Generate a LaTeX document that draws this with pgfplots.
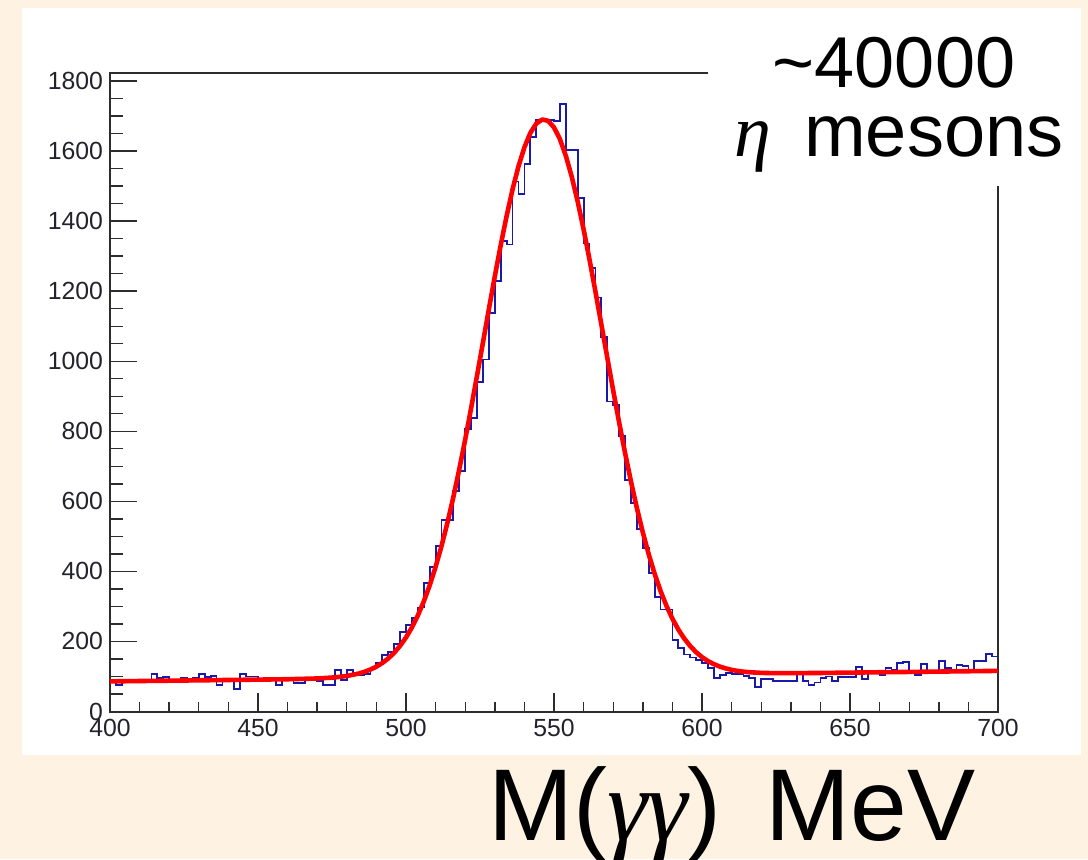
\documentclass[border=0pt]{standalone}
\usepackage{fontspec}
\setmainfont{Liberation Sans}
\newfontfamily\greekfont{Liberation Serif}
\usepackage{pgfplots}
\usepackage{pgfplotstable}
\pgfplotsset{compat=1.18}

\definecolor{cream}{RGB}{254,243,226}
\definecolor{histblue}{RGB}{25,25,170}
\definecolor{fitred}{RGB}{255,0,0}
\definecolor{framegray}{RGB}{45,45,45}
\definecolor{labelgray}{RGB}{35,35,45}

% diphoton invariant mass, 2 MeV bins (left bin edge, entries)
\pgfplotstableread{
m n
400 87
402 76
404 90
406 90
408 90
410 90
412 90
414 107
416 95
418 98
420 86
422 90
424 95
426 86
428 95
430 107
432 98
434 102
436 76
438 90
440 90
442 64
444 107
446 100
448 100
450 90
452 90
454 90
456 76
458 90
460 90
462 81
464 81
466 90
468 90
470 86
472 76
474 76
476 119
478 90
480 119
482 105
484 105
486 107
488 124
490 138
492 161
494 171
496 192
498 227
500 247
502 268
504 297
506 367
508 413
510 472
512 547
514 547
516 629
518 687
520 806
522 838
524 941
526 1005
528 1137
530 1228
532 1344
534 1333
536 1513
538 1478
540 1564
542 1641
544 1690
546 1685
548 1688
550 1685
552 1734
554 1604
556 1604
558 1467
560 1336
562 1267
564 1182
566 1069
568 885
570 876
572 786
574 661
576 596
578 522
580 466
582 396
584 328
586 291
588 291
590 204
592 181
594 163
596 154
598 146
600 138
602 124
604 95
606 105
608 111
610 107
612 107
614 102
616 95
618 69
620 93
622 93
624 88
626 88
628 88
630 88
632 107
634 86
636 76
638 83
640 95
642 100
644 86
646 98
648 98
650 98
652 128
654 92
656 114
658 117
660 105
662 124
664 119
666 138
668 141
670 114
672 105
674 136
676 114
678 114
680 145
682 124
684 119
686 133
688 130
690 114
692 145
694 145
696 164
698 157
700 157
}\histdata

% fitted signal + background curve
\pgfplotstableread{
m f
400 86
420 88
440 90
460 92.1
470 94.3
476 97.4
480 101.4
484 108.3
486 113.3
488 119.8
490 128.1
492 138.5
494 151.5
496 167.7
498 187.4
500 211.4
502 240
504 274.2
506 314
508 360.1
510 412.9
512 472.4
514 538.9
516 612.1
518 691.5
520 776.3
522 866
524 958.9
526 1053.4
528 1148.7
530 1242.1
532 1331.3
534 1414.8
536 1490.6
538 1556.4
540 1610.5
542 1651.6
544 1678.3
546 1690.1
548 1686.5
550 1667.5
552 1634
554 1586.5
556 1526.7
558 1456
560 1376.5
562 1290.1
564 1198.9
566 1104.9
568 1010.4
570 916.6
572 825.5
574 738.6
576 656.8
578 580.8
580 511.5
582 448.9
584 393.1
586 344.1
588 301.6
590 265.1
592 234.1
594 208.4
596 187
598 169.4
600 155.3
602 144
604 135.2
606 128.3
608 123
610 118.9
612 115.9
614 113.7
616 112.1
620 110.3
624 109.5
630 109.5
640 110
660 112
680 114
700 116
}\fitdata

\begin{document}
\begin{tikzpicture}
% page background and white plot panel
\fill[cream] (0,0) rectangle (544pt,429.5pt);
\fill[white] (11pt,52pt) rectangle (540.5pt,425.5pt);

\begin{axis}[
  at={(55pt,73.75pt)}, anchor=south west,
  scale only axis, width=444pt, height=319.1pt,
  xmin=400, xmax=700, ymin=0, ymax=1822,
  xtick={400,450,...,700}, ytick={0,200,...,1800},
  minor x tick num=4, minor y tick num=3,
  tick align=inside, xtick pos=left, ytick pos=left,
  axis line style={framegray, line width=1pt},
  every tick/.style={framegray, line width=0.7pt},
  xtick style={/pgfplots/major tick length=9.5pt, /pgfplots/minor tick length=5pt},
  ytick style={/pgfplots/major tick length=13.5pt, /pgfplots/minor tick length=6.5pt},
  /pgf/number format/assume math mode=true,
  /pgf/number format/1000 sep={},
  ticklabel style={font=\fontsize{12.4}{14}\selectfont, text=labelgray},
  xticklabel style={yshift=-0.5pt},
]
\addplot[const plot mark left, histblue, line width=0.9pt] table[x=m, y=n] {\histdata};
\addplot[fitred, line width=2.3pt, line join=round] table[x=m, y=f] {\fitdata};
\end{axis}

% white label box over the upper right corner of the frame
\fill[white] (354pt,336.5pt) rectangle (540.5pt,425pt);
\node[anchor=base, inner sep=0pt, font=\fontsize{36}{40}\selectfont] at (447pt,385.5pt) {\textasciitilde 40000};
\node[anchor=base, inner sep=0pt, font=\fontsize{37}{42}\selectfont] at (449.5pt,351pt) {{\greekfont\itshape η}\, mesons};
\node[anchor=base, inner sep=0pt, font=\fontsize{51}{56}\selectfont] at (366pt,9.5pt) {M({\greekfont\itshape γγ})\hspace{8pt} MeV};

\pgfresetboundingbox
\useasboundingbox (0,0) rectangle (544pt,429.5pt);
\end{tikzpicture}
\end{document}
